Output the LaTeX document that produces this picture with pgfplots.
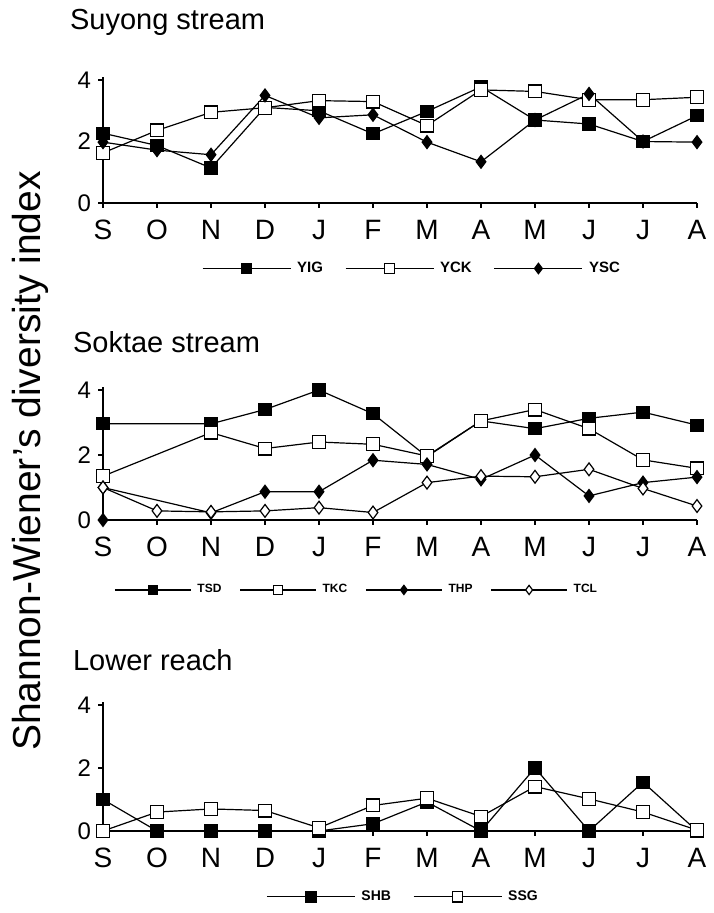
\documentclass[border=0pt]{standalone}
\usepackage{fontspec}
\setmainfont{Liberation Sans}
\usepackage{pgfplots}
\pgfplotsset{compat=1.18}
\pgfplotsset{
  panel/.style={
    scale only axis, width=297pt,
    xmin=0, xmax=11, ymin=0, ymax=4.1,
    axis x line=bottom, axis y line=left,
    axis line style={-, line width=0.9pt},
    xtick={0,...,11},
    xticklabels={S,O,N,D,J,F,M,A,M,J,J,A},
    ytick={0,2,4},
    /pgf/number format/assume math mode=true,
    xticklabel style={font=\fontsize{14}{16}\selectfont, yshift=-2.5pt},
    yticklabel style={font=\fontsize{12}{14}\selectfont},
    tick style={black, line width=0.6pt},
    major tick length=2.5pt, tick align=outside,
    clip=false, anchor=south west,
    every axis plot/.append style={black, line width=0.6pt},
    legend cell align=left,
    legend style={draw=none, fill=none, legend columns=-1, inner sep=0pt,
      nodes={inner sep=1pt},
      font=\bfseries\fontsize{7.5}{8}\selectfont,
      /tikz/every odd column/.append style={column sep=2pt},
      /tikz/every even column/.append style={column sep=10pt}},
  },
  fsq/.style={mark=square*, mark size=3pt, mark options={fill=black, solid}},
  osq/.style={mark=square*, mark size=3.2pt, mark options={fill=white, solid}},
  fdi/.style={mark=diamond*, mark size=3.2pt, mark options={fill=black, solid}},
  odi/.style={mark=diamond*, mark size=3.2pt, mark options={fill=white, solid}},
}
\begin{document}
\begin{tikzpicture}
\path (0pt,0pt) rectangle (355pt,456.5pt);
\node[rotate=90, font=\fontsize{19.5}{21}\selectfont] at (15pt,226pt) {Shannon-Wiener’s diversity index};
\node[anchor=west, font=\fontsize{14.5}{16}\selectfont] at (31.5pt,445.5pt) {Suyong stream};
\node[anchor=west, font=\fontsize{14.5}{16}\selectfont] at (33pt,285.5pt) {Soktae stream};
\node[anchor=west, font=\fontsize{14.5}{16}\selectfont] at (33pt,126.5pt) {Lower reach};

% Panel 1
\begin{axis}[panel, at={(51.5pt,355pt)}, height=63pt,
  legend image code/.code={\draw[mark repeat=2,mark phase=2,mark size=2.6pt] plot coordinates {(0pt,0pt) (22pt,0pt) (44pt,0pt)};},
  legend style={at={(0.52,-0.52)}, anchor=center}]
\addplot[fsq] coordinates {(0,2.27) (1,1.87) (2,1.14) (3,3.11) (4,3.0) (5,2.25) (6,2.98) (7,3.78) (8,2.7) (9,2.57) (10,2.0) (11,2.84)};
\addplot[osq] coordinates {(0,1.63) (1,2.36) (2,2.95) (3,3.1) (4,3.33) (5,3.3) (6,2.52) (7,3.68) (8,3.63) (9,3.36) (10,3.36) (11,3.44)};
\addplot[fdi] coordinates {(0,1.98) (1,1.72) (2,1.57) (3,3.5) (4,2.77) (5,2.87) (6,1.98) (7,1.34) (8,2.7) (9,3.55) (10,2.0) (11,1.98)};
\legend{YIG,YCK,YSC}
\end{axis}

% Panel 2
\begin{axis}[panel, at={(51.5pt,196.5pt)}, height=66.6pt,
  legend image code/.code={\draw[mark repeat=2,mark phase=2,mark size=2.3pt] plot coordinates {(0pt,0pt) (19pt,0pt) (38pt,0pt)};},
  legend style={at={(0.427,-0.525)}, anchor=center, font=\bfseries\fontsize{6}{7}\selectfont,
    /tikz/every even column/.append style={column sep=8pt}}]
\addplot[fsq] coordinates {(0,2.96) (2,2.96) (3,3.4) (4,4.0) (5,3.27) (6,1.95) (7,3.05) (8,2.81) (9,3.13) (10,3.32) (11,2.92)};
\addplot[osq] coordinates {(0,1.35) (2,2.69) (3,2.2) (4,2.4) (5,2.33) (6,1.97) (7,3.05) (8,3.4) (9,2.81) (10,1.85) (11,1.59)};
\addplot[fdi] coordinates {(0,1.0) (2,0.22) (3,0.87) (4,0.87) (5,1.84) (6,1.71) (7,1.25) (8,2.0) (9,0.74) (10,1.15) (11,1.32)};
\addplot[odi] coordinates {(0,1.0) (1,0.28) (2,0.25) (3,0.28) (4,0.38) (5,0.23) (6,1.15) (7,1.35) (8,1.33) (9,1.56) (10,0.97) (11,0.43)};
\addplot[fdi, only marks, forget plot] coordinates {(0,0)};
\legend{TSD,TKC,THP,TCL}
\end{axis}

% Panel 3
\begin{axis}[panel, at={(51.5pt,41pt)}, height=64.6pt,
  legend image code/.code={\draw[mark repeat=2,mark phase=2,mark size=2.6pt] plot coordinates {(0pt,0pt) (22pt,0pt) (44pt,0pt)};},
  legend style={at={(0.505,-0.51)}, anchor=center, font=\bfseries\fontsize{7}{8}\selectfont}]
\addplot[fsq] coordinates {(0,1.0) (1,0) (2,0) (3,0) (4,0) (5,0.23) (6,0.92) (7,0) (8,2.0) (9,0) (10,1.55) (11,0)};
\addplot[osq] coordinates {(0,0) (1,0.6) (2,0.7) (3,0.65) (4,0.1) (5,0.81) (6,1.04) (7,0.46) (8,1.41) (9,1.02) (10,0.6) (11,0.03)};
\legend{SHB,SSG}
\end{axis}
\end{tikzpicture}
\end{document}
